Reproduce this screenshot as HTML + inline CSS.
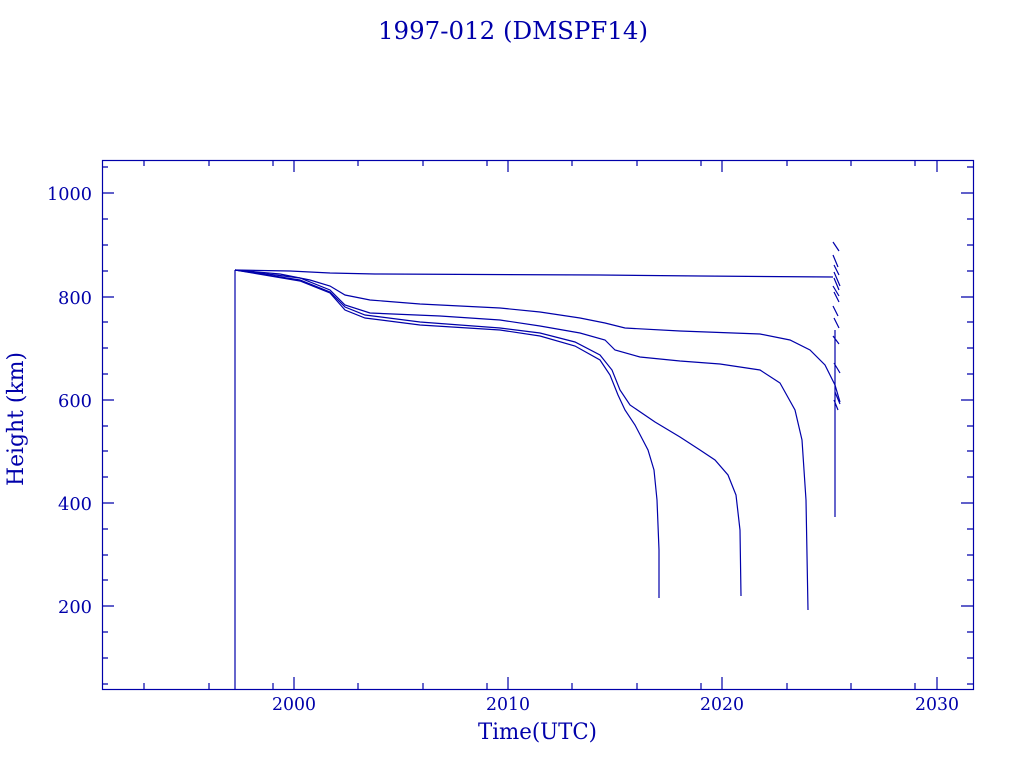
<!DOCTYPE html>
<html><head><meta charset="utf-8"><style>
html,body{margin:0;padding:0;background:#fff;}
svg{display:block;}
text{font-family:"DejaVu Serif","Liberation Serif",serif;fill:#0000aa;}
</style></head><body>
<svg width="1024" height="768" viewBox="0 0 1024 768" xmlns="http://www.w3.org/2000/svg">
<g stroke="#0000aa" stroke-width="1.2" fill="none">
<rect x="102.5" y="160.5" width="871" height="529"/>
<path d="M294,689v-12M508,689v-12M722,689v-12M937,689v-12M294,160v12M508,160v12M722,160v12M937,160v12"/>
<path d="M144,689v-6M209,689v-6M273,689v-6M358,689v-6M423,689v-6M487,689v-6M572,689v-6M637,689v-6M701,689v-6M787,689v-6M851,689v-6M915,689v-6
M144,160v6M209,160v6M273,160v6M358,160v6M423,160v6M487,160v6M572,160v6M637,160v6M701,160v6M787,160v6M851,160v6M915,160v6"/>
<path d="M102,193h12M102,297h12M102,400h12M102,503h12M102,606h12M973,193h-12M973,297h-12M973,400h-12M973,503h-12M973,606h-12"/>
<path d="M102,167h6M102,219h6M102,245h6M102,271h6M102,322h6M102,348h6M102,374h6M102,426h6M102,451h6M102,477h6M102,529h6M102,555h6M102,580h6M102,632h6M102,658h6M102,684h6
M973,167h-6M973,219h-6M973,245h-6M973,271h-6M973,322h-6M973,348h-6M973,374h-6M973,426h-6M973,451h-6M973,477h-6M973,529h-6M973,555h-6M973,580h-6M973,632h-6M973,658h-6M973,684h-6"/>
<path d="M235,689V270"/>
<polyline points="235,270 290,271 330,273 375,274 600,275 700,276 833,277"/>
<polyline points="235,270 280,274 310,280 330,286 345,295 370,300 420,304 500,308 540,312 580,318 605,323 625,328 680,331 760,334 790,340 810,350 825,365 835,385 840,402"/>
<polyline points="235,270 300,278 330,290 345,305 370,313 440,316 500,320 540,326 580,333 605,340 615,350 640,357 680,361 720,364 760,370 780,383 795,410 802,440 806,500 808,610"/>
<polyline points="235,270 300,280 330,292 345,307 365,315 420,322 500,328 540,333 575,342 600,355 612,370 620,390 630,405 655,422 680,437 700,450 715,460 728,475 736,495 740,530 741,596"/>
<polyline points="235,270 300,281 330,293 345,310 365,318 420,325 500,330 540,336 575,346 600,360 610,375 618,395 625,410 635,425 648,450 654,470 657,500 659,550 659,598"/>
<path d="M835,330V517M833,242l6,9M833,255l5,12M834,265l5,10M834,272l6,14M834,278l5,12M833,286l6,10M834,292l5,10M833,306l5,10M834,318l5,10M833,336l6,8M834,363l6,10M835,392l5,12M834,400l4,10"/>
</g>
<text x="378" y="39" font-size="24" textLength="270" lengthAdjust="spacingAndGlyphs">1997-012 (DMSPF14)</text>
<g font-size="18">
<text x="47" y="200" textLength="45" lengthAdjust="spacingAndGlyphs">1000</text>
<text x="58" y="304" textLength="34" lengthAdjust="spacingAndGlyphs">800</text>
<text x="58" y="407" textLength="34" lengthAdjust="spacingAndGlyphs">600</text>
<text x="58" y="510" textLength="34" lengthAdjust="spacingAndGlyphs">400</text>
<text x="58" y="613" textLength="34" lengthAdjust="spacingAndGlyphs">200</text>
<text x="272" y="710" textLength="44" lengthAdjust="spacingAndGlyphs">2000</text>
<text x="486" y="710" textLength="44" lengthAdjust="spacingAndGlyphs">2010</text>
<text x="700" y="710" textLength="44" lengthAdjust="spacingAndGlyphs">2020</text>
<text x="915" y="710" textLength="44" lengthAdjust="spacingAndGlyphs">2030</text>
</g>
<text x="478" y="739" font-size="22" textLength="119" lengthAdjust="spacingAndGlyphs">Time(UTC)</text>
<text transform="translate(23,486) rotate(-90)" font-size="22" textLength="134" lengthAdjust="spacingAndGlyphs">Height (km)</text>
</svg>
</body></html>
